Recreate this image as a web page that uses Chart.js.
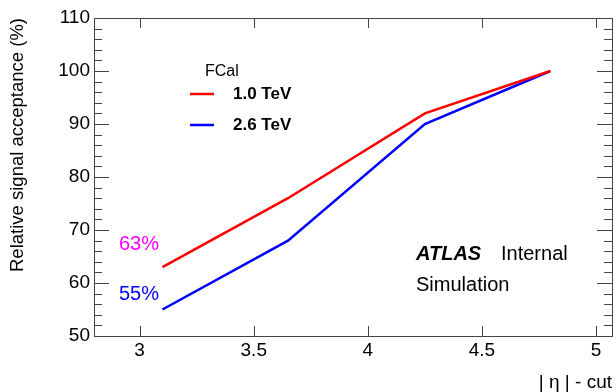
<!DOCTYPE html>
<html>
<head>
<meta charset="utf-8">
<script src="https://cdn.jsdelivr.net/npm/chart.js@4.4.1/dist/chart.umd.min.js"></script>
<style>
  html, body { margin: 0; padding: 0; background: #fff; }
  #wrap { width: 616px; height: 392px; }
</style>
</head>
<body>
<div id="wrap"><canvas id="c" width="616" height="392"></canvas></div>
<script>
// |eta| cut values and relative acceptance (%)
var etaCut = [3.1, 3.65, 4.25, 4.8];
var acc1TeV = [63, 76, 92, 100];
var acc26TeV = [55, 68, 90, 100];
var seriesLabels = ['1.0 TeV', '2.6 TeV'];
var seriesColors = ['#ff0000', '#0000ff'];
var xTicks = [3, 3.5, 4, 4.5, 5];
var yTicks = [50, 60, 70, 80, 90, 100, 110];

var FONT = '"Liberation Sans", Arial, Helvetica, sans-serif';

function pts(xs, ys) {
  var out = [];
  for (var i = 0; i < xs.length; i++) out.push({x: xs[i], y: ys[i]});
  return out;
}

// ROOT style frame: inward ticks on all four sides + text labels
var rootFrame = {
  id: 'rootFrame',
  afterDatasetsDraw: function(chart) {
    var ctx = chart.ctx, a = chart.chartArea;
    var xs = chart.scales.x, ys = chart.scales.y;
    ctx.save();
    ctx.strokeStyle = '#444';
    ctx.lineWidth = 1;
    ctx.strokeRect(Math.round(a.left) + 0.5, Math.round(a.top) + 0.5,
                   Math.round(a.right - a.left), Math.round(a.bottom - a.top));
    ctx.beginPath();
    xTicks.forEach(function(v) {
      var px = Math.round(xs.getPixelForValue(v)) + 0.5;
      ctx.moveTo(px, a.bottom); ctx.lineTo(px, a.bottom - 10);
      ctx.moveTo(px, a.top); ctx.lineTo(px, a.top + 10);
    });
    for (var v = yTicks[0]; v <= yTicks[yTicks.length - 1]; v += 2) {
      var py = Math.round(ys.getPixelForValue(v)) + 0.5;
      var len = (v % 10 === 0) ? 15 : 8;
      ctx.moveTo(a.left, py); ctx.lineTo(a.left + len, py);
      ctx.moveTo(a.right, py); ctx.lineTo(a.right - len, py);
    }
    ctx.stroke();

    // legend
    ctx.textBaseline = 'middle';
    ctx.textAlign = 'left';
    ctx.fillStyle = '#000';
    ctx.font = '16px ' + FONT;
    ctx.fillText('FCal', 205, 72);
    chart.data.datasets.forEach(function(ds, i) {
      var ly = 94 + i * 31;
      ctx.strokeStyle = ds.borderColor;
      ctx.lineWidth = 2.5;
      ctx.beginPath();
      ctx.moveTo(190, ly); ctx.lineTo(214, ly);
      ctx.stroke();
      ctx.fillStyle = '#000';
      ctx.font = 'bold 17px ' + FONT;
      ctx.fillText(ds.label, 233, ly);
    });

    // first-point acceptance
    ctx.font = '20px ' + FONT;
    ctx.fillStyle = '#ff00ff';
    ctx.fillText(acc1TeV[0] + '%', 119, 244);
    ctx.fillStyle = '#0000ff';
    ctx.fillText(acc26TeV[0] + '%', 119, 294);

    // ATLAS label
    ctx.fillStyle = '#000';
    ctx.font = 'italic bold 20px ' + FONT;
    ctx.fillText('ATLAS', 416, 254);
    ctx.font = '20px ' + FONT;
    ctx.fillText('Internal', 501, 254);
    ctx.fillText('Simulation', 416, 285);
    ctx.restore();
  }
};

new Chart(document.getElementById('c'), {
  type: 'line',
  data: {
    datasets: [{
      label: seriesLabels[0],
      data: pts(etaCut, acc1TeV),
      borderColor: seriesColors[0],
      borderWidth: 2.5,
      pointRadius: 0,
      tension: 0,
      fill: false
    }, {
      label: seriesLabels[1],
      data: pts(etaCut, acc26TeV),
      borderColor: seriesColors[1],
      borderWidth: 2.5,
      pointRadius: 0,
      tension: 0,
      fill: false
    }]
  },
  options: {
    responsive: false,
    animation: false,
    layout: { padding: { top: 18, right: 4, left: 0, bottom: 0 } },
    plugins: { legend: { display: false }, tooltip: { enabled: false } },
    scales: {
      x: {
        type: 'linear',
        min: 2.8,
        max: 5.07,
        grid: { display: false, drawTicks: false },
        border: { display: false },
        afterBuildTicks: function(s) { s.ticks = xTicks.map(function(v) { return {value: v}; }); },
        afterFit: function(s) { s.height = 56; },
        ticks: {
          color: '#000',
          padding: 3,
          maxRotation: 0,
          font: { family: FONT, size: 19 },
          callback: function(v) { return String(v); }
        },
        title: {
          display: true,
          text: '| \u03b7 | - cut',
          align: 'end',
          color: '#000',
          padding: { top: 0, bottom: 0 },
          font: { family: FONT, size: 19, lineHeight: 1 }
        }
      },
      y: {
        min: 50,
        max: 110,
        grid: { display: false, drawTicks: false },
        border: { display: false },
        afterBuildTicks: function(s) { s.ticks = yTicks.map(function(v) { return {value: v}; }); },
        afterFit: function(s) { s.width = 94; },
        ticks: {
          color: '#000',
          padding: 4,
          font: { family: FONT, size: 19 }
        },
        title: {
          display: true,
          text: 'Relative signal acceptance (%)',
          align: 'end',
          color: '#000',
          padding: { top: 7, bottom: 0 },
          font: { family: FONT, size: 18.5, lineHeight: 1.2 }
        }
      }
    }
  },
  plugins: [rootFrame]
});
</script>
</body>
</html>
